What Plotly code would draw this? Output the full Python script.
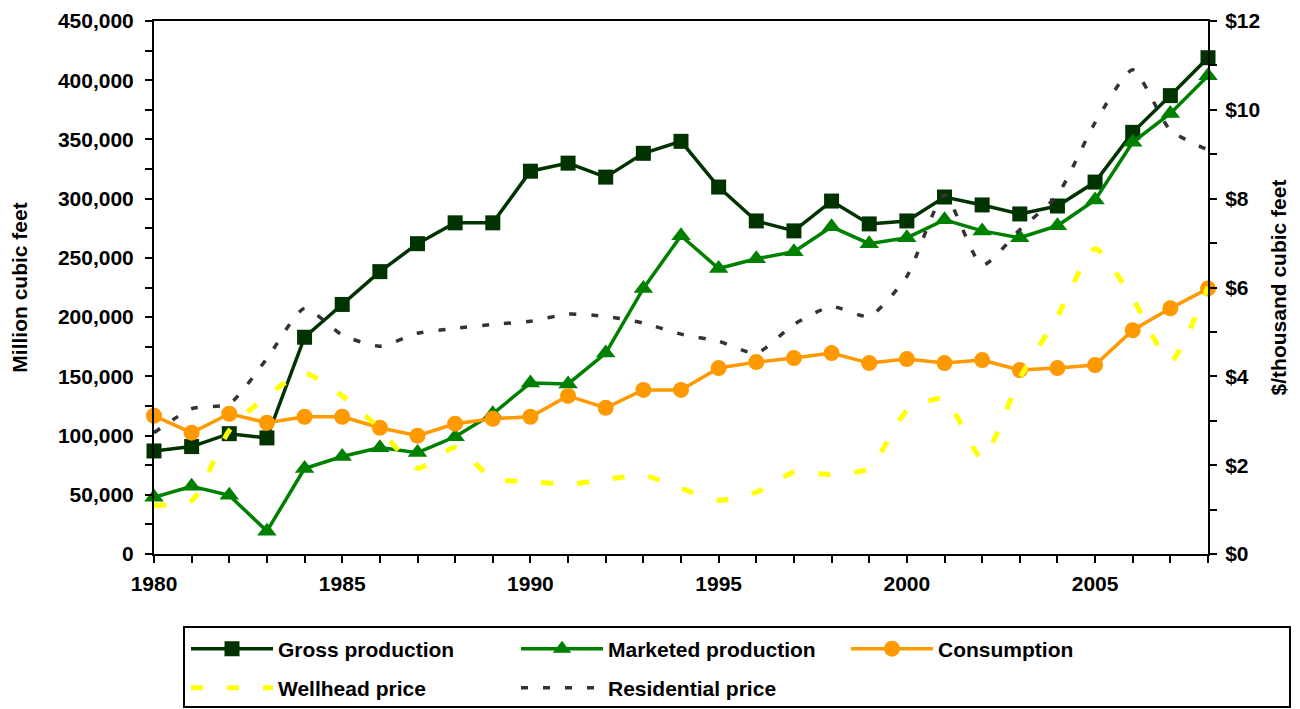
import plotly.graph_objects as go

years = list(range(1980, 2009))

gross_production = [87000, 90700, 101600, 98000, 183000, 210700, 238400, 262000, 279600, 279600,
                    323200, 330000, 318200, 338300, 348400, 309800, 281200, 272800, 298000, 278700,
                    281200, 301400, 294700, 287100, 293800, 314000, 356000, 387000, 419000]

marketed_production = [47900, 57100, 49500, 19300, 72200, 82300, 89800, 85600, 99000, 118400,
                       144400, 143600, 169600, 224200, 268700, 241000, 249300, 255200, 276200, 262000,
                       267000, 282100, 272800, 267000, 277100, 298900, 347600, 371900, 403800]

consumption = [116700, 102400, 118400, 110800, 115900, 115900, 106600, 99900, 110000, 114200,
               115900, 133500, 123400, 138500, 138500, 157000, 162000, 165400, 169600, 161200,
               164600, 161200, 163700, 155300, 157000, 159500, 188900, 207400, 224200]

wellhead_price = [1.10, 1.20, 2.78, 3.56, 4.07, 3.56, 2.82, 1.93, 2.40, 1.70,
                  1.63, 1.57, 1.68, 1.77, 1.48, 1.21, 1.39, 1.84, 1.79, 1.93,
                  3.22, 3.50, 2.15, 3.96, 5.35, 6.87, 5.75, 4.34, 6.02]

residential_price = [2.73, 3.27, 3.38, 4.40, 5.53, 4.93, 4.68, 4.97, 5.08, 5.17,
                     5.24, 5.40, 5.35, 5.20, 4.95, 4.79, 4.52, 5.17, 5.57, 5.35,
                     6.25, 8.08, 6.50, 7.30, 8.08, 9.71, 10.90, 9.54, 9.10]

series_names = ["Gross production", "Marketed production", "Consumption",
                "Wellhead price", "Residential price"]

FONT = "Liberation Sans, Arial, sans-serif"

# page has an 8px body margin; compensate so the plot area lands at x 154-1208, bottom 554
OFF = 8
W, H = 1300 - OFF, 709 - OFF
TOP = 13
PLOT_W, PLOT_H = 1054, H - TOP - 155

fig = go.Figure()

fig.add_trace(go.Scatter(
    x=years, y=gross_production, name=series_names[0], mode="lines+markers",
    line=dict(color="#003300", width=3.5),
    marker=dict(symbol="square", size=15, color="#003300"),
    cliponaxis=False, legend="legend"))
fig.add_trace(go.Scatter(
    x=years, y=marketed_production, name=series_names[1], mode="lines+markers",
    line=dict(color="#008000", width=3.5),
    marker=dict(symbol="triangle-up", size=17, color="#008000"),
    cliponaxis=False, legend="legend"))
fig.add_trace(go.Scatter(
    x=years, y=consumption, name=series_names[2], mode="lines+markers",
    line=dict(color="#FF9900", width=3.5),
    marker=dict(symbol="circle", size=16, color="#FF9900"),
    cliponaxis=False, legend="legend"))
fig.add_trace(go.Scatter(
    x=years, y=wellhead_price, name=series_names[3], mode="lines", yaxis="y2",
    line=dict(color="#FFFF00", width=5, dash="12px,24px", shape="spline", smoothing=0.6),
    legend="legend2"))
fig.add_trace(go.Scatter(
    x=years, y=residential_price, name=series_names[4], mode="lines", yaxis="y2",
    line=dict(color="#333333", width=3.5, dash="7px,15px", shape="spline", smoothing=0.6),
    legend="legend2"))

axis_font = dict(family=FONT, size=21, color="black", weight="bold")
title_font = dict(family=FONT, size=21, color="black", weight="bold")

legend_common = dict(
    orientation="h", xanchor="left", yanchor="middle",
    font=dict(family=FONT, size=21, color="black", weight="bold"),
    bgcolor="rgba(0,0,0,0)", borderwidth=0,
    itemwidth=82, entrywidth=233, entrywidthmode="pixels",
    tracegroupgap=0,
)

def px(xpix):
    return (xpix - 154) / PLOT_W

def py(ypix):
    return (554 - ypix) / PLOT_H

fig.update_layout(
    width=W, height=H,
    margin=dict(l=154 - OFF, r=92, t=TOP, b=155, autoexpand=False),
    paper_bgcolor="white", plot_bgcolor="white",
    showlegend=True,
    xaxis=dict(
        range=[1980, 2008], tickmode="array", tickvals=[1980, 1985, 1990, 1995, 2000, 2005],
        ticktext=["1980", "1985", "1990", "1995", "2000", "2005"],
        ticks="outside", ticklen=7, tickwidth=2, tickcolor="black", ticklabelstandoff=3,
        ticklabeloverflow="allow",
        minor=dict(dtick=1, tick0=1980, ticks="outside", ticklen=7, tickwidth=2, tickcolor="black", showgrid=False),
        showline=True, linecolor="black", linewidth=2, mirror=True,
        showgrid=False, zeroline=False, tickfont=axis_font, automargin=False,
    ),
    yaxis=dict(
        range=[0, 450000], dtick=50000, tick0=0, tickformat=",d",
        ticks="outside", ticklen=7, tickwidth=2, tickcolor="black", ticklabelstandoff=7,
        ticklabeloverflow="allow",
        minor=dict(dtick=25000, ticks="outside", ticklen=7, tickwidth=2, tickcolor="black", showgrid=False),
        showline=True, linecolor="black", linewidth=2,
        showgrid=False, zeroline=False, tickfont=axis_font, automargin=False,
        title=dict(text="Million cubic feet", font=title_font, standoff=29),
    ),
    yaxis2=dict(
        overlaying="y", side="right", range=[0, 12], dtick=2, tick0=0, tickprefix="$",
        ticks="outside", ticklen=7, tickwidth=2, tickcolor="black", ticklabelstandoff=4,
        ticklabeloverflow="allow",
        minor=dict(dtick=1, ticks="outside", ticklen=7, tickwidth=2, tickcolor="black", showgrid=False),
        showline=True, linecolor="black", linewidth=2,
        showgrid=False, zeroline=False, tickfont=axis_font, automargin=False,
        title=dict(text="$/thousand cubic feet", font=title_font, standoff=12),
    ),
    legend=dict(x=px(186), y=py(649), **legend_common),
    legend2=dict(x=px(186), y=py(688), **legend_common),
    shapes=[dict(type="rect", xref="paper", yref="paper",
                 x0=px(184), x1=px(1290), y0=py(707), y1=py(627),
                 line=dict(color="black", width=2), fillcolor="rgba(0,0,0,0)", layer="above")],
)

fig.write_html("out.html")
